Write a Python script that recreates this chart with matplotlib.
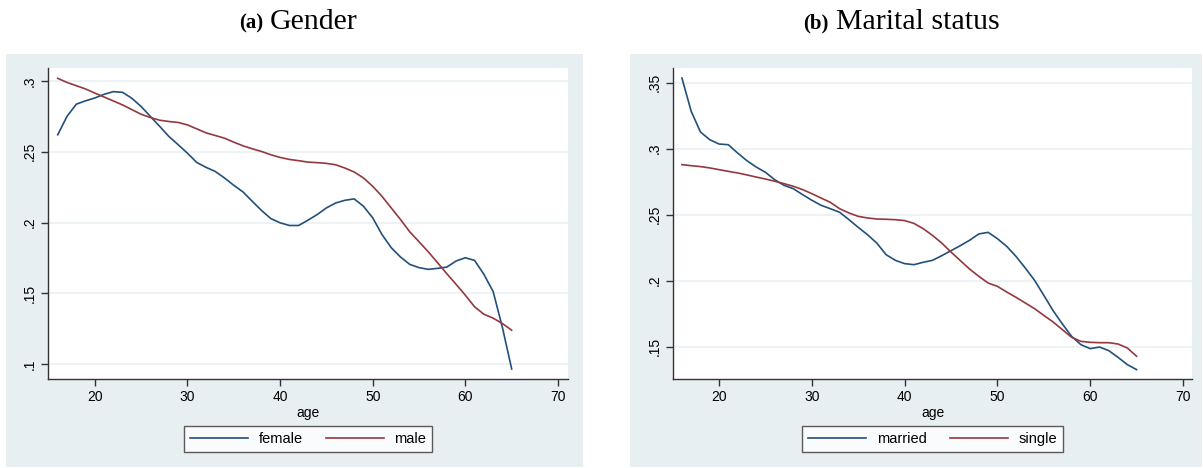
import matplotlib
matplotlib.use("Agg")
import matplotlib.pyplot as plt
from matplotlib.patches import Rectangle
import numpy as np

ages = list(range(16, 66))

female = [0.262, 0.275, 0.2836, 0.286, 0.288, 0.2906, 0.2925, 0.292, 0.2878, 0.282,
          0.275, 0.268, 0.2608, 0.255, 0.249, 0.2425, 0.239, 0.2361, 0.2315, 0.2263,
          0.2216, 0.215, 0.2085, 0.2028, 0.1998, 0.1979, 0.1979, 0.2016, 0.2056, 0.2103,
          0.2138, 0.2157, 0.2167, 0.2115, 0.2033, 0.1915, 0.1822, 0.1756, 0.1704, 0.1681,
          0.1669, 0.1676, 0.1685, 0.1728, 0.1751, 0.1732, 0.1634, 0.1512, 0.1258, 0.0965]
male = [0.3019, 0.299, 0.2967, 0.2944, 0.2915, 0.2887, 0.2859, 0.2831, 0.2798, 0.2765,
        0.2742, 0.2723, 0.2714, 0.2707, 0.269, 0.2662, 0.2634, 0.2615, 0.2596, 0.2568,
        0.2542, 0.2521, 0.2502, 0.2479, 0.246, 0.2446, 0.2437, 0.2427, 0.2423, 0.2418,
        0.2408, 0.2385, 0.2357, 0.2315, 0.2256, 0.2185, 0.2103, 0.2021, 0.1934, 0.1864,
        0.1793, 0.1716, 0.1638, 0.1563, 0.1486, 0.1404, 0.1352, 0.1324, 0.1286, 0.1239]
married = [0.3535, 0.3283, 0.3126, 0.3068, 0.3035, 0.303, 0.2967, 0.2909, 0.2861, 0.2821,
           0.2765, 0.2722, 0.2697, 0.2652, 0.2609, 0.2571, 0.2545, 0.2518, 0.2462, 0.2404,
           0.2348, 0.2285, 0.2197, 0.2154, 0.2129, 0.2121, 0.2139, 0.2154, 0.2189, 0.2227,
           0.2265, 0.2306, 0.2354, 0.2366, 0.2318, 0.226, 0.2184, 0.2096, 0.2003, 0.1889,
           0.1773, 0.1672, 0.1578, 0.1515, 0.1485, 0.1497, 0.147, 0.1419, 0.1364, 0.1326]
single = [0.2879, 0.2871, 0.2864, 0.2854, 0.2841, 0.2828, 0.2816, 0.2801, 0.2785, 0.277,
          0.2753, 0.2735, 0.2715, 0.269, 0.2659, 0.2626, 0.2593, 0.2545, 0.2513, 0.2487,
          0.2475, 0.2467, 0.2465, 0.2462, 0.2455, 0.2434, 0.2394, 0.2343, 0.2285, 0.2217,
          0.2152, 0.2088, 0.2033, 0.1982, 0.1957, 0.1914, 0.1874, 0.1831, 0.1788, 0.1737,
          0.1687, 0.1629, 0.1571, 0.154, 0.1533, 0.153, 0.153, 0.152, 0.149, 0.1427]

xticks = [20, 30, 40, 50, 60, 70]
yticks_a = [0.1, 0.15, 0.2, 0.25, 0.3]
yticks_a_labels = [".1", ".15", ".2", ".25", ".3"]
yticks_b = [0.15, 0.2, 0.25, 0.3, 0.35]
yticks_b_labels = [".15", ".2", ".25", ".3", ".35"]

W, H = 1203, 468
fig = plt.figure(figsize=(W / 100, H / 100), dpi=100)
fig.patch.set_facecolor("white")

BG = "#E8EFF2"
GRID = "#EAF1F4"
BLUE = "#22507A"
RED = "#93383E"
AX = "#333333"

def px_rect(x0, y0, x1, y1):
    return [x0 / W, 1 - y1 / H, (x1 - x0) / W, (y1 - y0) / H]

for (x0, x1) in [(6, 583), (630, 1202)]:
    r = px_rect(x0, 54, x1, 467)
    fig.add_artist(Rectangle((r[0], r[1]), r[2], r[3], transform=fig.transFigure,
                             facecolor=BG, edgecolor="none", zorder=-10))

plt.rcParams['font.family'] = ['Liberation Sans', 'DejaVu Sans']

FS = 10

def make_panel(rect, s1, s2, l1, l2, yt, ytl, ylim, xlim):
    ax = fig.add_axes(rect)
    ax.set_zorder(2)
    ax.set_facecolor("white")
    ax.plot(ages, s1, color=BLUE, lw=1.2, label=l1, zorder=3)
    ax.plot(ages, s2, color=RED, lw=1.2, label=l2, zorder=3)
    ax.set_xlim(*xlim)
    ax.set_ylim(*ylim)
    ax.set_xticks(xticks)
    ax.set_xticklabels([str(t) for t in xticks], fontsize=FS)
    ax.set_yticks(yt)
    ax.set_yticklabels(ytl, fontsize=FS, rotation=90, va="center")
    ax.grid(axis="y", color=GRID, lw=1.2, zorder=1)
    ax.set_axisbelow(True)
    for sp in ["top", "right"]:
        ax.spines[sp].set_visible(False)
    for sp in ["left", "bottom"]:
        ax.spines[sp].set_color(AX)
        ax.spines[sp].set_linewidth(1.0)
    ax.tick_params(axis="both", colors=AX, length=5, width=1.0, labelcolor="black", pad=3)
    ax.set_xlabel("age", fontsize=FS, labelpad=1)
    leg = ax.legend(loc="upper center", bbox_to_anchor=(0.5, -(426 - 379) / 311), ncol=2,
                    frameon=True, fancybox=False, edgecolor=AX, fontsize=10.5,
                    handlelength=4.0, columnspacing=1.6, handletextpad=0.7,
                    borderpad=0.4, borderaxespad=0)
    leg.get_frame().set_linewidth(1.0)
    return ax

axa = make_panel(px_rect(48, 68, 568, 379), female, male, "female", "male",
                 yticks_a, yticks_a_labels, (0.0894, 0.3092), (14.95, 71.08))
axb = make_panel(px_rect(673, 68, 1192, 379), married, single, "married", "single",
                 yticks_b, yticks_b_labels, (0.1255, 0.3611), (15.04, 70.97))

serif = ['Liberation Serif', 'DejaVu Serif']
fig.text(263 / W, 1 - 23 / H, "(a)", ha="right", va="center", fontsize=15,
         fontweight="bold", family=serif)
fig.text(270 / W, 1 - 22 / H, "Gender", ha="left", va="center", fontsize=21.5, family=serif)
fig.text(828 / W, 1 - 23 / H, "(b)", ha="right", va="center", fontsize=15,
         fontweight="bold", family=serif)
fig.text(836 / W, 1 - 22 / H, "Marital status", ha="left", va="center", fontsize=21.5,
         family=serif)

fig.savefig("out.png", dpi=100, facecolor="white")
